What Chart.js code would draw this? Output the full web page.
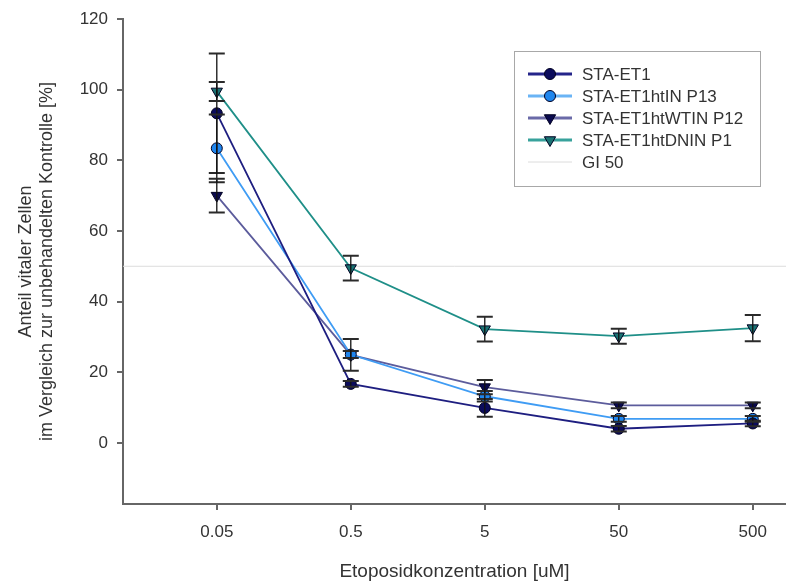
<!DOCTYPE html>
<html>
<head>
<meta charset="utf-8">
<script src="https://cdn.jsdelivr.net/npm/chart.js@4.4.1/dist/chart.umd.min.js"></script>
<style>
  html, body { margin: 0; padding: 0; background: #fff; overflow: hidden; }
  #wrap { width: 786px; height: 586px; position: relative; }
  canvas { display: block; }
</style>
</head>
<body>
<div id="wrap"><canvas id="c" width="786" height="586"></canvas></div>
<script>
// ---- data ----
const concLabels = ["0.05", "0.5", "5", "50", "500"];
const seriesNames = ["STA-ET1", "STA-ET1htIN P13", "STA-ET1htWTIN P12", "STA-ET1htDNIN P1"];
const staEt1      = [93.3, 16.7, 9.9, 4.0, 5.5];
const staEt1Err   = [16.9, 0.8, 2.5, 0.8, 0.8];
const htIN        = [83.4, 25.0, 13.2, 6.8, 6.8];
const htINErr     = [9.6, 1.0, 1.5, 0.8, 0.8];
const htWTIN      = [70.0, 24.9, 15.8, 10.6, 10.6];
const htWTINErr   = [4.8, 4.5, 2.0, 0.8, 0.8];
const htDNIN      = [99.5, 49.5, 32.2, 30.2, 32.5];
const htDNINErr   = [2.7, 3.5, 3.5, 2.1, 3.7];
const gi50        = 50;
const yTicks      = [0, 20, 40, 60, 80, 100, 120];

const X_MIN = -0.7, X_MAX = 4.248, Y_MIN = -17.3, Y_MAX = 120;
const FONT = '"Liberation Sans", Arial, sans-serif';

function pts(arr) { return arr.map((v, i) => ({ x: i, y: v })); }

const styles = [
  { line: '#1e1e80', legLine: '#24248a', fill: '#0b0b5c', shape: 'circle', rot: 0, r: 5.5 },
  { line: '#3f9cf4', legLine: '#6ab4f5', fill: '#1f86ee', shape: 'circle', rot: 0, r: 5.5 },
  { line: '#5c5c9c', legLine: '#6a6aa8', fill: '#0a0a4e', shape: 'triangle', rot: 180, r: 6.5 },
  { line: '#1f8f88', legLine: '#38a29c', fill: '#1b7373', shape: 'triangle', rot: 180, r: 6.5 }
];
const values = [staEt1, htIN, htWTIN, htDNIN];
const errors = [staEt1Err, htINErr, htWTINErr, htDNINErr];

const datasets = values.map((vals, k) => ({
  label: seriesNames[k],
  data: pts(vals),
  errors: errors[k],
  legLine: styles[k].legLine,
  borderColor: styles[k].line,
  backgroundColor: styles[k].fill,
  borderWidth: 1.8,
  pointStyle: styles[k].shape,
  rotation: styles[k].rot,
  pointRadius: styles[k].r,
  pointBorderColor: '#000022',
  pointBorderWidth: 1,
  pointBackgroundColor: styles[k].fill,
  tension: 0,
  order: 1
}));
datasets.push({
  label: 'GI 50',
  data: [{ x: X_MIN, y: gi50 }, { x: X_MAX, y: gi50 }],
  borderColor: '#dcdcdc',
  legLine: '#dcdcdc',
  borderWidth: 1,
  pointRadius: 0,
  isRef: true,
  order: 5
});

const errorBars = {
  id: 'errorBars',
  afterDatasetsDraw(chart) {
    const ctx = chart.ctx, xs = chart.scales.x, ys = chart.scales.y;
    ctx.save();
    chart.data.datasets.forEach(ds => {
      if (!ds.errors) return;
      ds.data.forEach((p, i) => {
        const e = ds.errors[i];
        const px = xs.getPixelForValue(p.x);
        const y1 = ys.getPixelForValue(p.y + e);
        const y2 = ys.getPixelForValue(p.y - e);
        ctx.strokeStyle = '#111';
        ctx.lineWidth = 1.3;
        ctx.beginPath();
        ctx.moveTo(px, y1); ctx.lineTo(px, y2);
        ctx.stroke();
        ctx.lineWidth = 2;
        ctx.strokeStyle = '#2a2a2a';
        ctx.beginPath();
        ctx.moveTo(px - 8, y1); ctx.lineTo(px + 8, y1);
        ctx.moveTo(px - 8, y2); ctx.lineTo(px + 8, y2);
        ctx.stroke();
      });
    });
    ctx.restore();
  }
};

const boxLegend = {
  id: 'boxLegend',
  afterDraw(chart) {
    const ctx = chart.ctx;
    const bx = 514.5, by = 51.5, bw = 246, bh = 135;
    ctx.save();
    ctx.strokeStyle = '#a8a8a8';
    ctx.lineWidth = 1;
    ctx.fillStyle = '#fff';
    ctx.fillRect(bx, by, bw, bh);
    ctx.strokeRect(bx, by, bw, bh);
    const rowY = [74, 96, 118, 140, 162];
    chart.data.datasets.forEach((ds, k) => {
      const y = rowY[k];
      ctx.strokeStyle = ds.legLine;
      ctx.lineWidth = ds.isRef ? 1 : 3;
      ctx.beginPath();
      ctx.moveTo(528, y); ctx.lineTo(572, y);
      ctx.stroke();
      if (!ds.isRef) {
        ctx.fillStyle = ds.pointBackgroundColor;
        ctx.strokeStyle = ds.pointBorderColor;
        ctx.lineWidth = 1;
        Chart.helpers.drawPoint(ctx, {
          pointStyle: ds.pointStyle, rotation: ds.rotation, radius: ds.pointRadius, borderWidth: 1
        }, 550, y);
      }
      ctx.fillStyle = '#333';
      ctx.font = '17px ' + FONT;
      ctx.textBaseline = 'middle';
      ctx.textAlign = 'left';
      ctx.fillText(ds.label, 582, y + 1);
    });
    ctx.restore();
  }
};

new Chart(document.getElementById('c'), {
  type: 'line',
  data: { datasets },
  plugins: [errorBars, boxLegend],
  options: {
    responsive: false,
    animation: false,
    events: [],
    layout: { autoPadding: false, padding: { top: 19, right: 0, left: 0, bottom: 0 } },
    plugins: { legend: { display: false }, tooltip: { enabled: false } },
    scales: {
      x: {
        type: 'linear',
        min: X_MIN, max: X_MAX,
        afterBuildTicks(scale) { scale.ticks = concLabels.map((_, i) => ({ value: i })); },
        afterFit(scale) { scale.height = 82; scale.paddingLeft = 0; scale.paddingRight = 0; },
        ticks: {
          callback: (v) => concLabels[v],
          color: '#333',
          font: { family: FONT, size: 17 },
          padding: 12,
          maxRotation: 0
        },
        grid: { display: true, drawOnChartArea: false, drawTicks: true, tickLength: 6, color: '#666', lineWidth: 2 },
        border: { display: true, color: '#666', width: 2 },
        title: {
          display: true,
          text: 'Etoposidkonzentration [uM]',
          color: '#333',
          font: { family: FONT, size: 19 },
          padding: { top: 0, bottom: 3 }
        }
      },
      y: {
        type: 'linear',
        min: Y_MIN, max: Y_MAX,
        afterBuildTicks(scale) { scale.ticks = yTicks.map(v => ({ value: v })); },
        afterFit(scale) { scale.width = 123; scale.paddingTop = 0; scale.paddingBottom = 0; },
        ticks: {
          color: '#333',
          font: { family: FONT, size: 17 },
          padding: 9
        },
        grid: { display: true, drawOnChartArea: false, drawTicks: true, tickLength: 6, color: '#666', lineWidth: 2 },
        border: { display: true, color: '#666', width: 2 },
        title: {
          display: true,
          text: ['Anteil vitaler Zellen', 'im Vergleich zur unbehandelten Kontrolle [%]'],
          color: '#333',
          font: { family: FONT, size: 18, lineHeight: 1.2 },
          padding: { top: 15, bottom: 0 }
        }
      }
    }
  }
});
</script>
</body>
</html>
